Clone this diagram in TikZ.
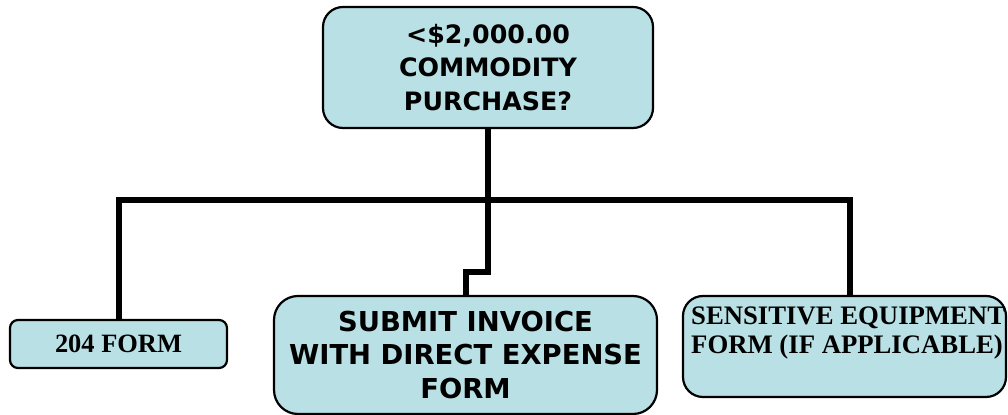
\documentclass[tikz,border=0pt]{standalone}
\usepackage{fontspec}
\newfontfamily\verdfont{DejaVu Sans}
\newfontfamily\timesfont{Liberation Serif}
\definecolor{boxfill}{RGB}{185,224,228}
\tikzset{
  formbox/.style={draw=black, line width=0.055cm, fill=boxfill, inner sep=0pt},
  branch/.style={line width=0.15cm, line join=miter}
}
\begin{document}
\begin{tikzpicture}
                    \useasboundingbox (0.000000,0.000000) rectangle (25.200000,10.375000);
                    
                    % Box: purchase question
                    \node [formbox, rounded corners=0.5cm, minimum width=8.250000cm, minimum height=3.025000cm, align=center,
                           font=\verdfont\bfseries\fontsize{18}{24}\selectfont]
                          (purchase) at (12.200000,8.687500) {<\$2,000.00\\COMMODITY\\PURCHASE?};%
                    
                    % Box: 204 form
                    \node [formbox, rounded corners=0.2cm, minimum width=5.425000cm, minimum height=1.200000cm,
                           font=\timesfont\bfseries\fontsize{18.8}{18}\selectfont]
                          (form204) at (2.962500,1.775000) {204 FORM};%
                    
                    % Box: submit invoice
                    \node [formbox, rounded corners=0.6cm, minimum width=9.575000cm, minimum height=2.950000cm, align=center,
                           font=\verdfont\bfseries\fontsize{19.5}{23.5}\selectfont]
                          (invoice) at (11.637500,1.500000) {SUBMIT INVOICE\\WITH DIRECT EXPENSE\\FORM};%
                    
                    % Box: sensitive equipment
                    \node [formbox, rounded corners=0.5cm, minimum width=8.075000cm, minimum height=2.525000cm]
                          (sensitive) at (21.112500,1.712500) {};%
                    \node [anchor=north west, inner sep=0pt, align=left,
                           font=\timesfont\bfseries\fontsize{19}{21}\selectfont]
                          (sensitivetext) at ([shift={(0.225000,-0.290000)}]sensitive.north west)
                          {SENSITIVE EQUIPMENT\\FORM (IF APPLICABLE)};%
                    
                    % Branch points
                    \coordinate (bar) at (12.200000,5.375000);%
                    \coordinate (jog) at (12.200000,3.575000);%
                    
                    % Drawing branch purchase -- bar
                    \draw [branch] (purchase.south) -- (bar);%
                    
                    % Drawing branch bar -- 204 form
                    \draw [branch] (bar) -| (form204.north);%
                    
                    % Drawing branch bar -- sensitive equipment
                    \draw [branch] (bar) -| ([xshift=0.137500cm]sensitive.north);%
                    
                    % Drawing branch bar -- invoice
                    \draw [branch] (bar) -- (jog) -| (invoice.north);%
\end{tikzpicture}
\end{document}
